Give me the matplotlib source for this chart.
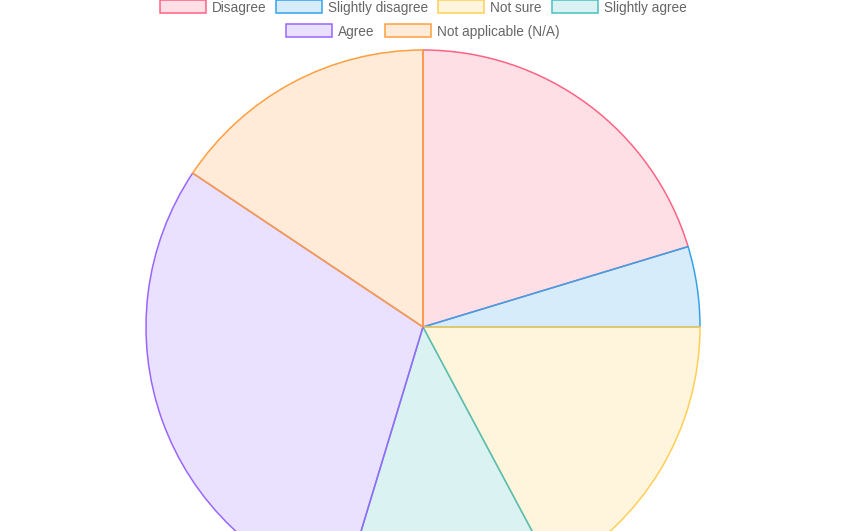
import numpy as np
import matplotlib.pyplot as plt
from matplotlib.patches import Rectangle

# Survey answers (counts)
labels = ["Disagree", "Slightly disagree", "Not sure", "Slightly agree",
          "Agree", "Not applicable (N/A)"]
counts = [13, 3, 11, 8, 19, 10]

# Chart.js-like palette: solid border, 20% fill
border_rgb = [(255, 99, 132), (54, 162, 235), (255, 206, 86),
              (75, 192, 192), (153, 102, 255), (255, 159, 64)]
edge_colors = [tuple(c / 255 for c in rgb) for rgb in border_rgb]
fill_colors = [tuple(c / 255 for c in rgb) + (0.2,) for rgb in border_rgb]

W, H = 864, 531
fig = plt.figure(figsize=(W / 100, H / 100), dpi=100, facecolor="white")
plt.rcParams['font.family'] = ['Liberation Sans', 'DejaVu Sans']

# Pie: centre (423, 327) px, radius 277 px, runs off the bottom edge
cx, cy, r = 423, 327, 277
ax = fig.add_axes([(cx - r) / W, (H - cy - r) / H, 2 * r / W, 2 * r / H])

wedges, _ = ax.pie(counts, colors=fill_colors, startangle=90, counterclock=False,
                   radius=1, wedgeprops=dict(linewidth=1.1))
for w, ec in zip(wedges, edge_colors):
    w.set_edgecolor(ec)
    w.set_alpha(None)

ax.set_xlim(-1, 1)
ax.set_ylim(-1, 1)
ax.set_aspect("equal")
ax.axis("off")

# Legend, two centred rows like the Chart.js default
rows = [[0, 1, 2, 3], [4, 5]]
row_y = [6.5, 30.5]
box_w, box_h, gap_txt, gap_item = 46, 13, 6, 10
font_px = 13.6
renderer = fig.canvas.get_renderer()


def text_width(s):
    t = fig.text(0, 0, s, fontsize=font_px * 0.72)
    w = t.get_window_extent(renderer).width
    t.remove()
    return w


for row, yc in zip(rows, row_y):
    widths = [box_w + gap_txt + text_width(labels[i]) for i in row]
    total = sum(widths) + gap_item * (len(row) - 1)
    x = 423 - total / 2
    for i, wdt in zip(row, widths):
        fig.patches.append(Rectangle((x / W, (H - yc - box_h / 2) / H),
                                     box_w / W, box_h / H, transform=fig.transFigure,
                                     facecolor=fill_colors[i], edgecolor=edge_colors[i],
                                     linewidth=1.1))
        fig.text((x + box_w + gap_txt) / W, (H - yc) / H, labels[i],
                 fontsize=font_px * 0.72, color="#666666", va="center_baseline", ha="left")
        x += wdt + gap_item

fig.savefig("out.png", dpi=100, facecolor="white")
